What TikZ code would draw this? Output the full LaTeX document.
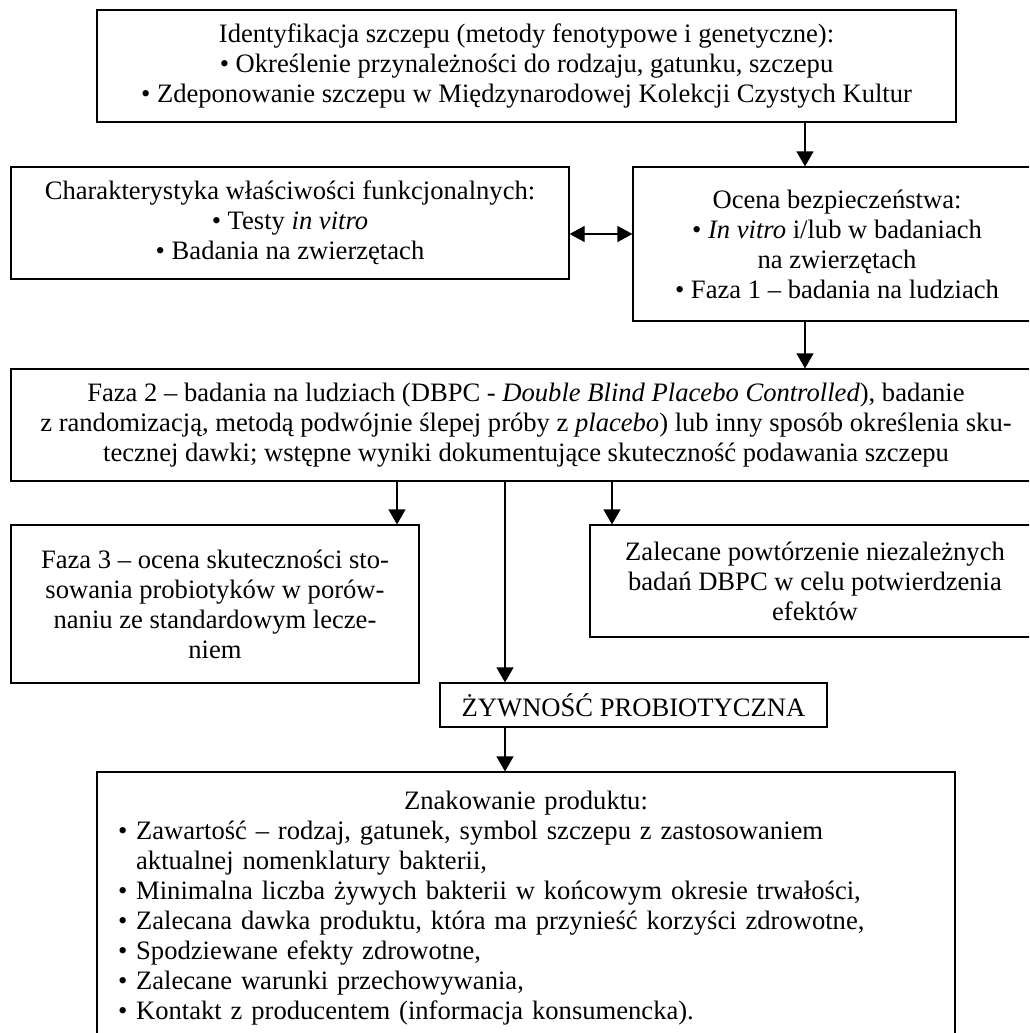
\documentclass[tikz,border=0pt]{standalone}
\usepackage{fontspec}
\setmainfont{Liberation Serif}
\usetikzlibrary{arrows.meta}

\begin{document}
\begin{tikzpicture}[
		x=1pt, y=-1pt,
		font=\fontsize{26.6}{30}\selectfont,
		box/.style={draw, line width=1.2pt, align=center, inner sep=0pt},
		conn/.style={line width=1.2pt, -{Triangle[length=15pt, width=17pt]}},
		both/.style={line width=1.2pt, {Triangle[length=15pt, width=16pt]}-{Triangle[length=15pt, width=16pt]}}
		]
		
		\clip (0,0) rectangle (1029,1033);
		
		% 方框
		\node[box, minimum width=859pt, minimum height=112pt] (ident) at (526.5,66)
		{Identyfikacja szczepu (metody fenotypowe i genetyczne):\\
			• Określenie przynależności do rodzaju, gatunku, szczepu\\
			• Zdeponowanie szczepu w Międzynarodowej Kolekcji Czystych Kultur};
		
		\node[box, minimum width=558pt, minimum height=112pt] (func) at (290,223)
		{Charakterystyka właściwości funkcjonalnych:\\
			• Testy \textit{in vitro}\\
			• Badania na zwierzętach};
		
		\node[box, minimum width=408pt, minimum height=154pt] (safety) at (837,244)
		{Ocena bezpieczeństwa:\\
			• \textit{In vitro} i/lub w badaniach\\
			na zwierzętach\\
			• Faza 1 – badania na ludziach};
		
		\node[box, minimum width=1030pt, minimum height=112pt] (phase2) at (526,425)
		{Faza 2 – badania na ludziach (DBPC - \textit{Double Blind Placebo Controlled}), badanie\\
			z randomizacją, metodą podwójnie ślepej próby z \textit{placebo}) lub inny sposób określenia sku-\\
			tecznej dawki; wstępne wyniki dokumentujące skuteczność podawania szczepu};
		
		\node[box, minimum width=408pt, minimum height=158pt] (phase3) at (215,604)
		{Faza 3 – ocena skuteczności sto-\\
			sowania probiotyków w porów-\\
			naniu ze standardowym lecze-\\
			niem};
		
		\node[box, minimum width=450pt, minimum height=112pt] (repeat) at (815,581)
		{Zalecane powtórzenie niezależnych\\
			badań DBPC w celu potwierdzenia\\
			efektów};
		
		\node[box, minimum width=387pt, minimum height=44pt] (food) at (633.5,705)
		{ŻYWNOŚĆ PROBIOTYCZNA};
		
		\node[box, align=left, text width=816pt, minimum width=858pt, minimum height=273pt] (marking) at (526,908.5)
		{\makebox[\linewidth]{Znakowanie produktu:}\\
			• Zawartość – rodzaj, gatunek, symbol szczepu z zastosowaniem\\
			\phantom{• }aktualnej nomenklatury bakterii,\\
			• Minimalna liczba żywych bakterii w końcowym okresie trwałości,\\
			• Zalecana dawka produktu, która ma przynieść korzyści zdrowotne,\\
			• Spodziewane efekty zdrowotne,\\
			• Zalecane warunki przechowywania,\\
			• Kontakt z producentem (informacja konsumencka).};
		
		% 箭头位置
		\coordinate (c1) at (805,0);
		\coordinate (c2) at (397,0);
		\coordinate (c3) at (612,0);
		\coordinate (c4) at (505,0);
		\coordinate (c5) at (0,234);
		
		% 箭头
		\draw[conn] (ident.south -| c1) -- (safety.north -| c1);
		\draw[both] (func.east |- c5) -- (safety.west |- c5);
		\draw[conn] (safety.south -| c1) -- (phase2.north -| c1);
		\draw[conn] (phase2.south -| c2) -- (phase3.north -| c2);
		\draw[conn] (phase2.south -| c3) -- (repeat.north -| c3);
		\draw[conn] (phase2.south -| c4) -- (food.north -| c4);
		\draw[conn] (food.south -| c4) -- (marking.north -| c4);
		
	\end{tikzpicture}
\end{document}
